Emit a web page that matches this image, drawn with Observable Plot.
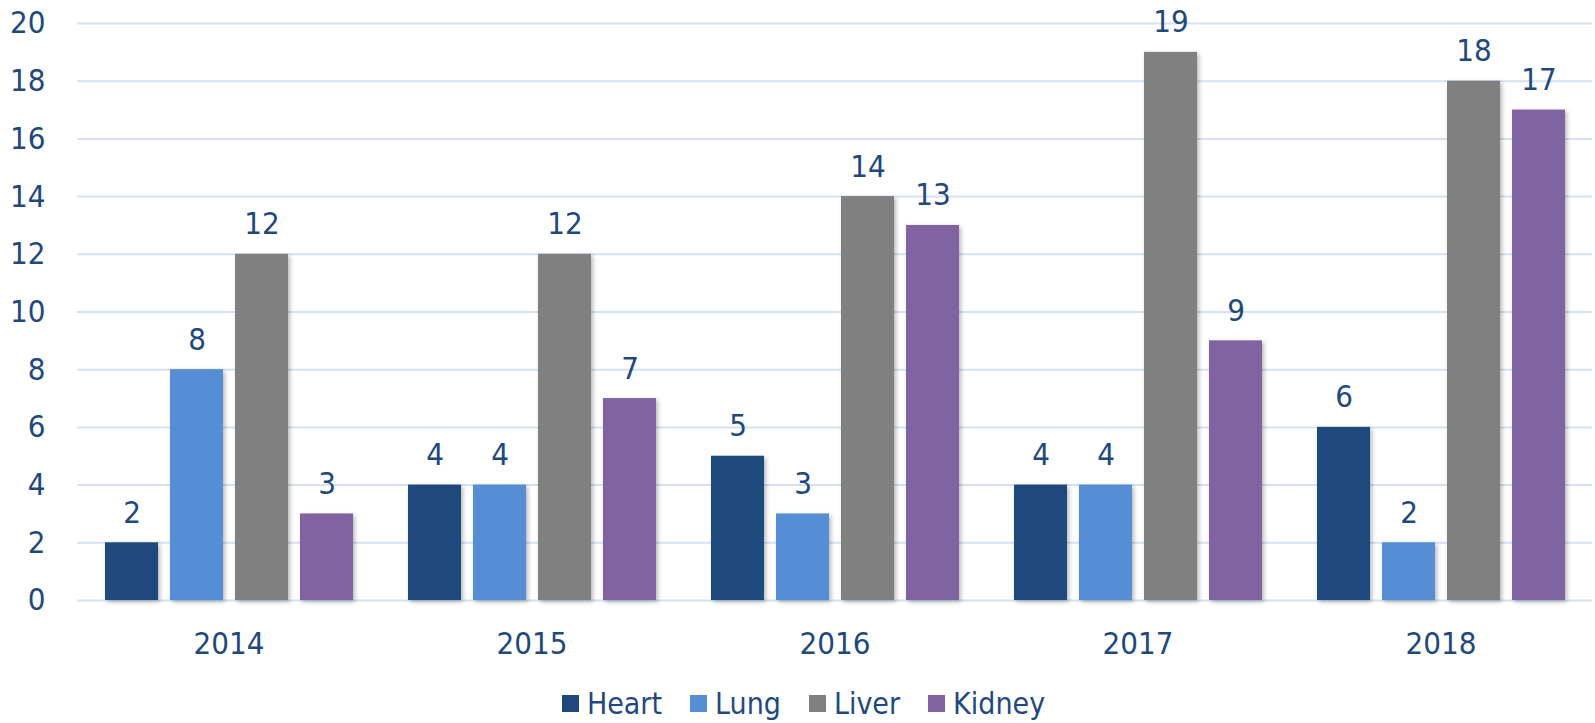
<!DOCTYPE html>
<html>
<head>
<meta charset="utf-8">
<script src="https://cdn.jsdelivr.net/npm/d3@7"></script>
<script src="https://cdn.jsdelivr.net/npm/@observablehq/plot@0.6"></script>
<style>
  html, body { margin: 0; padding: 0; background: #fff; }
  body { width: 1595px; height: 723px; overflow: hidden; font-family: "DejaVu Sans Condensed", "Liberation Sans", sans-serif; }
  #chart svg { display: block; }
  .bar rect { filter: drop-shadow(2px 2px 2px rgba(0,0,0,0.28)); }
  #legend { display: flex; justify-content: center; align-items: center; height: 45px; margin-top: 11px; color: #1F497D; font-size: 30px; padding-left: 12px; }
  #legend .item { display: flex; align-items: center; margin: 0 14px; }
  #legend .sw { width: 17px; height: 17px; margin-right: 8px; }
</style>
</head>
<body>
<div id="chart"></div>
<div id="legend"></div>
<script>
const years = ["2014", "2015", "2016", "2017", "2018"];
const organs = ["Heart", "Lung", "Liver", "Kidney"];
const heart = [2, 4, 5, 4, 6];
const lung = [8, 4, 3, 4, 2];
const liver = [12, 12, 14, 19, 18];
const kidney = [3, 7, 13, 9, 17];
const colors = ["#1F497D", "#558ED5", "#808080", "#8064A2"];
const yTicks = [0, 2, 4, 6, 8, 10, 12, 14, 16, 18, 20];

const series = [heart, lung, liver, kidney];
const data = [];
years.forEach((yr, i) => organs.forEach((o, j) => data.push({year: yr, organ: o, value: series[j][i]})));

const textColor = "#1F497D";
const font = "\"DejaVu Sans Condensed\", \"Liberation Sans\", sans-serif";

const chart = Plot.plot({
  width: 1595,
  height: 670,
  marginLeft: 77,
  marginRight: 3,
  marginTop: 23,
  marginBottom: 70,
  style: { fontFamily: font, fontSize: "31px", color: textColor, background: "#fff" },
  fx: { domain: years, padding: 0, label: null, axis: "bottom", tickSize: 0, tickPadding: 31 },
  x: { domain: organs, paddingInner: 0.19, paddingOuter: 0.41, axis: null },
  y: { domain: [0, 20], ticks: yTicks, label: null, axis: null },
  color: { domain: organs, range: colors },
  marks: [
    Plot.gridY(yTicks, { stroke: "#D6E1F1", strokeOpacity: 1, strokeWidth: 2 }),
    Plot.axisY({ ticks: yTicks, tickSize: 0, tickPadding: 32, fontSize: 31, fill: textColor, label: null }),
    Plot.barY(data, { fx: "year", x: "organ", y: "value", fill: "organ", className: "bar" }),
    Plot.text(data, { fx: "year", x: "organ", y: "value", text: d => String(d.value), lineAnchor: "bottom", dy: -20, fill: textColor, fontSize: 31 })
  ]
});
document.getElementById("chart").appendChild(chart);

const legend = document.getElementById("legend");
organs.forEach((o, j) => {
  const item = document.createElement("div");
  item.className = "item";
  const sw = document.createElement("span");
  sw.className = "sw";
  sw.style.background = colors[j];
  const lab = document.createElement("span");
  lab.textContent = o;
  item.appendChild(sw);
  item.appendChild(lab);
  legend.appendChild(item);
});
</script>
</body>
</html>
